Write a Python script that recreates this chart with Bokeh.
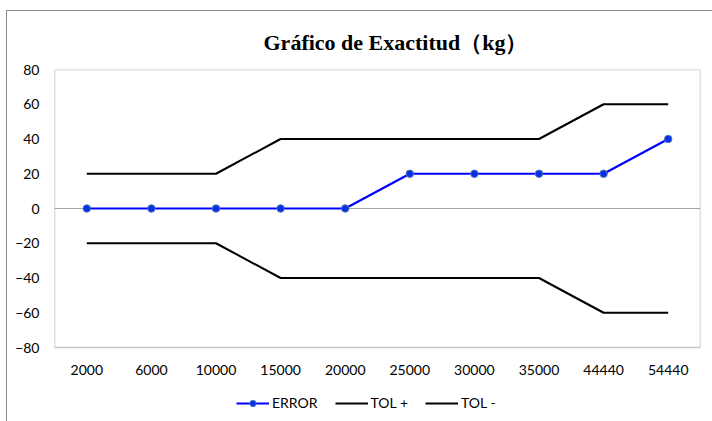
from bokeh.plotting import figure
from bokeh.models import Legend, LegendItem, ColumnDataSource, BoxAnnotation
from bokeh.core.properties import value
from bokeh.embed import file_html
from bokeh.resources import INLINE

categories = ["2000", "6000", "10000", "15000", "20000", "25000", "30000", "35000", "44440", "54440"]
error_vals = [0, 0, 0, 0, 0, 20, 20, 20, 20, 40]
tol_plus = [20, 20, 20, 40, 40, 40, 40, 40, 60, 60]
tol_minus = [-20, -20, -20, -40, -40, -40, -40, -40, -60, -60]
y_ticks = [-80, -60, -40, -20, 0, 20, 40, 60, 80]

Y_MIN, Y_MAX = -80, 80
PLOT_PX = 278                      # pixel height of the visible value box
UNIT = (Y_MAX - Y_MIN) / PLOT_PX   # data units per pixel
EXTRA_PX = 72                      # space below the box for tick labels and legend

src = ColumnDataSource(dict(x=categories, err=error_vals, tp=tol_plus, tm=tol_minus))
lab = ColumnDataSource(dict(x=categories, y=[Y_MIN - 22 * UNIT] * len(categories), t=categories))

p = figure(width=705, height=410, frame_width=646, frame_height=PLOT_PX + EXTRA_PX,
           x_range=categories, y_range=(Y_MIN - EXTRA_PX * UNIT, Y_MAX),
           output_backend="svg", toolbar_location=None,
           min_border_left=47, min_border_right=12, min_border_top=58, min_border_bottom=2)
p.styles = {"margin-left": "6px", "margin-top": "10px",
            "border-top": "1px solid #8c8c8c", "border-left": "1px solid #8c8c8c"}

p.title.text = "Gráfico de Exactitud（kg）"
p.title.align = "left"
p.title.offset = 209
p.title.standoff = 30
p.title.text_font = "Liberation Serif"
p.title.text_font_style = "bold"
p.title.text_font_size = "22px"
p.title.text_color = "#000000"

p.xgrid.visible = False
p.ygrid.visible = False
p.outline_line_color = None
p.xaxis.visible = False

p.yaxis.ticker = y_ticks
yax = p.yaxis[0]
yax.axis_line_color = None
yax.major_tick_line_color = None
yax.minor_tick_line_color = None
yax.major_tick_out = 0
yax.major_tick_in = 0
yax.major_label_text_font = "Lato"
yax.major_label_text_font_size = "14px"
yax.major_label_text_color = "#000000"
yax.major_label_standoff = 15

p.hspan(y=[0], line_color="#a6a6a6", line_width=1.2)
p.add_layout(BoxAnnotation(top=Y_MAX, bottom=Y_MIN, fill_alpha=0, line_color="#404040", line_width=1.5))

p.text("x", "y", text="t", source=lab, text_font=value("Lato"), text_font_size="14px",
       text_align="center", text_baseline="middle", text_color="#000000")

r_tp = p.line("x", "tp", source=src, line_color="#000000", line_width=2)
r_tm = p.line("x", "tm", source=src, line_color="#000000", line_width=2)
r_err = p.line("x", "err", source=src, line_color="#0000ff", line_width=2.2)
r_pts = p.scatter("x", "err", source=src, size=7.5, fill_color="#0a2ee6", line_color="#4a7ebb", line_width=1)

legend = Legend(items=[
    LegendItem(label="ERROR", renderers=[r_err, r_pts]),
    LegendItem(label="TOL +", renderers=[r_tp]),
    LegendItem(label="TOL -", renderers=[r_tm]),
], orientation="horizontal", location=(182, 8))
legend.border_line_color = None
legend.background_fill_alpha = 0
legend.label_text_font = "Lato"
legend.label_text_font_size = "14px"
legend.label_text_color = "#000000"
legend.glyph_width = 33
legend.label_standoff = 3
legend.spacing = 17
legend.padding = 0
legend.margin = 0
legend.label_height = 16
legend.glyph_height = 16
p.add_layout(legend, "center")

open("out.html", "w").write(file_html(p, INLINE))
